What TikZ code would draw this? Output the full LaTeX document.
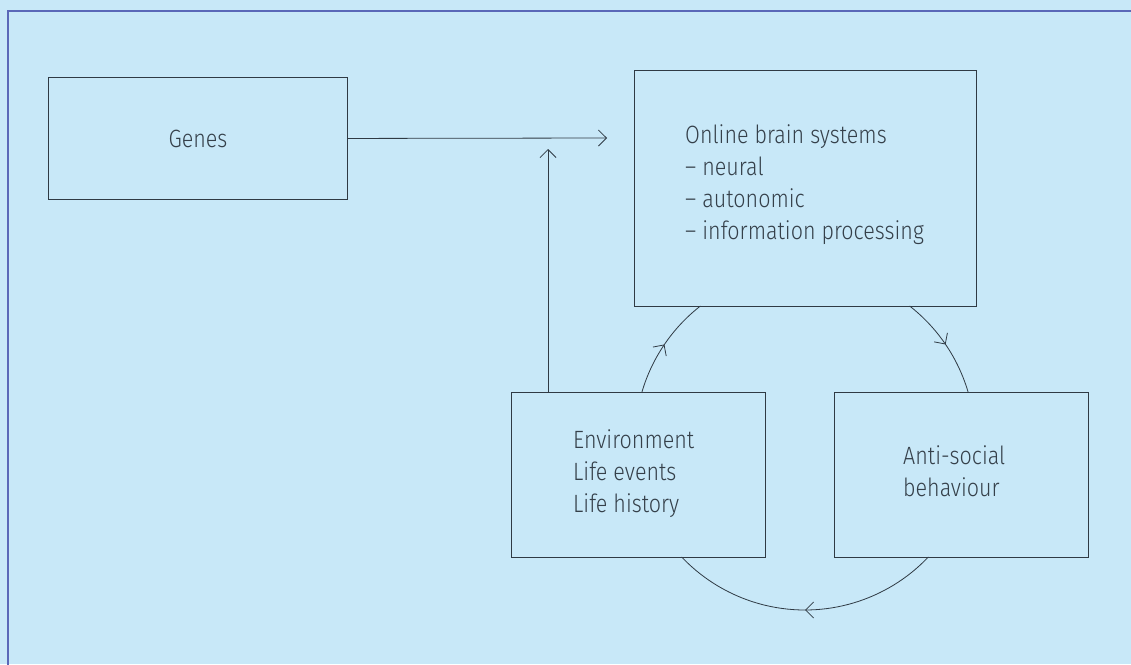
\documentclass[tikz,border=0pt]{standalone}
\usepackage{fontspec}
\setmainfont{Fira Sans}[UprightFont=* Light, FakeStretch=0.86]
\usetikzlibrary{arrows.meta,decorations.markings}
\definecolor{bg}{HTML}{C8E8F8}
\definecolor{frame}{HTML}{5A68B8}
\definecolor{boxline}{HTML}{2F3A44}
\definecolor{txt}{HTML}{35404A}
\begin{document}
\begin{tikzpicture}[x=1pt,y=-1pt,
  box/.style={draw=boxline, line width=0.9pt, inner sep=0pt, anchor=north west,
    text=txt, font=\fontsize{25}{32}\selectfont},
  lbl/.style={text=txt, font=\fontsize{25}{32}\selectfont, align=left,
    inner sep=0pt, anchor=base west},
  conn/.style={draw=boxline, line width=0.8pt},
  tipped/.style={-{Straight Barb[length=8pt,width=16pt]}},
  midtip/.style={decoration={markings, mark=at position 0.5 with
    {\arrow[boxline]{Straight Barb[length=8pt,width=16pt]}}}, postaction={decorate}},
  border/.style={draw=frame, line width=2.4pt}
]
\fill[bg] (0,0) rectangle (1131,664);
\useasboundingbox (0,0) rectangle (1131,664);
\draw[border] (8,670) -- (8,11) -- (1140,11);

% boxes
\node[box, minimum width=299pt, minimum height=122pt] (genes) at (48,77) {Genes};
\node[box, minimum width=342pt, minimum height=236pt] (online) at (634,70) {};
\node[box, minimum width=254pt, minimum height=165pt] (env) at (511,392) {};
\node[box, minimum width=254pt, minimum height=165pt] (anti) at (834,392) {};

% texts (anchor = baseline of last line)
\node[lbl] (onlineT) at (685,239) {Online brain systems\\– neural\\– autonomic\\– information processing};
\node[lbl] (envT) at (573,512) {Environment\\Life events\\Life history};
\node[lbl] (antiT) at (903,496) {Anti-social\\behaviour};

% straight connectors
\coordinate (gend) at (607,138);
\coordinate (vend) at (548,149);
\draw[conn, tipped] (genes.east) -- (gend);
\draw[conn, tipped] (env.north west -| vend) -- (vend);

% cycle arcs
\coordinate (c) at (805,440);
\draw[conn, midtip] (c) ++(196.4:170) arc[start angle=196.4, end angle=232.0, radius=170];
\draw[conn, midtip] (c) ++(308.0:170) arc[start angle=308.0, end angle=343.6, radius=170];
\draw[conn, midtip] (c) ++(43.5:170) arc[start angle=43.5, end angle=136.5, radius=170];
\end{tikzpicture}
\end{document}
